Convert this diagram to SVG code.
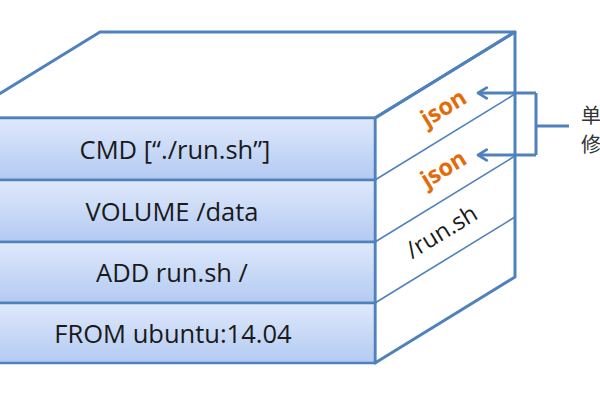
<svg xmlns="http://www.w3.org/2000/svg" width="600" height="400" viewBox="0 0 600 400">
<defs>
<linearGradient id="gTop" x1="0" y1="0" x2="0" y2="1">
<stop offset="0" stop-color="#e1ebfb"/>
<stop offset="1" stop-color="#a9c3f1"/>
</linearGradient>
<linearGradient id="gRow" x1="0" y1="0" x2="0" y2="1">
<stop offset="0" stop-color="#dfe9fb"/>
<stop offset="1" stop-color="#b3caf2"/>
</linearGradient>
<marker id="arr" viewBox="0 0 10 10" refX="8.5" refY="5" markerWidth="4.5" markerHeight="4.5" orient="auto" markerUnits="strokeWidth">
<path d="M2,1 L8.5,5 L2,9" fill="none" stroke="#4f81bd" stroke-width="2" stroke-linecap="round" stroke-linejoin="round"/>
</marker>
</defs>
<style>
.edge{fill:none;stroke:#4f81bd;stroke-width:3;stroke-linejoin:round}
.thin{fill:none;stroke:#4f81bd;stroke-width:1.6}
.row{fill:url(#gRow);stroke:#4f81bd;stroke-width:2.5}
.lbl{font-family:"Open Sans",Lato,sans-serif;font-size:25.5px;fill:#1a1a1a;text-anchor:middle;dominant-baseline:central}
.side{font-family:"Open Sans",Lato,sans-serif;font-size:23.5px;text-anchor:middle;dominant-baseline:central}
.json{fill:#e36c09;font-weight:bold}
.cjk{font-family:"Noto Sans CJK SC",sans-serif;font-size:20px;fill:#333}
.conn{fill:none;stroke:#4f81bd;stroke-width:3}
</style>
<rect width="600" height="400" fill="#ffffff"/>
<g id="top-face">
<polygon points="-40,118 100,32 515,32 375,118" fill="url(#gTop)" class="edge"/>
</g>
<g id="side-face">
<polygon points="375,118 515,32 515,277 375,363" fill="#ffffff" class="edge"/>
<line x1="375" y1="180" x2="515" y2="94" class="thin"/>
<line x1="375" y1="242" x2="515" y2="156" class="thin"/>
<line x1="375" y1="303" x2="515" y2="217" class="thin"/>
<text class="side json" transform="translate(443,107) rotate(-31.6)">json</text>
<text class="side json" transform="translate(443,168) rotate(-31.6)">json</text>
<text class="side" fill="#1a1a1a" transform="translate(441,231) rotate(-31.6)">/run.sh</text>
</g>
<g id="layer-cmd">
<rect x="-10" y="118" width="385" height="62" class="row"/>
<text x="175" y="149" class="lbl">CMD [“./run.sh”]</text>
</g>
<g id="layer-volume">
<rect x="-10" y="180" width="385" height="62" class="row"/>
<text x="172" y="211" class="lbl">VOLUME /data</text>
</g>
<g id="layer-add">
<rect x="-10" y="242" width="385" height="61" class="row"/>
<text x="172" y="272" class="lbl">ADD run.sh /</text>
</g>
<g id="layer-from">
<rect x="-10" y="303" width="385" height="60" class="row"/>
<text x="173" y="333" class="lbl">FROM ubuntu:14.04</text>
</g>
<g id="connectors">
<path d="M536,93 V155" class="conn"/>
<path d="M536,93 H478" class="conn" marker-end="url(#arr)"/>
<path d="M536,155 H478" class="conn" marker-end="url(#arr)"/>
<path d="M536,126 H569" class="conn"/>
</g>
<g id="note">
<text x="581" y="123" class="cjk">单</text>
<text x="581" y="152" class="cjk">修</text>
</g>
</svg>
